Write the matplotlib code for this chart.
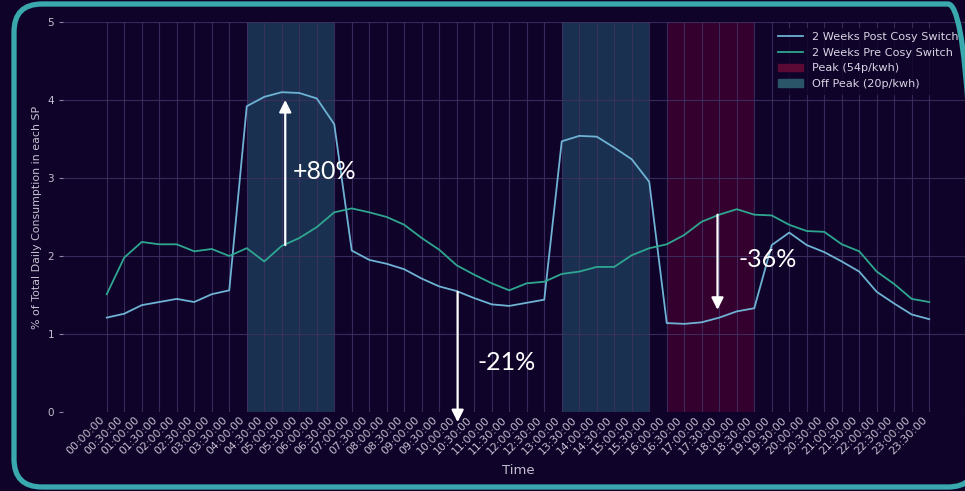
import numpy as np
import matplotlib
matplotlib.use('Agg')
import matplotlib.pyplot as plt
from matplotlib.patches import FancyBboxPatch
import matplotlib.transforms as mtransforms

# half-hourly settlement periods
times = ['%02d:%02d:00' % (h, m) for h in range(24) for m in (0, 30)]

# % of daily consumption per SP
post_switch = [1.21, 1.26, 1.37, 1.41, 1.45, 1.41, 1.51, 1.56, 3.92, 4.04,
               4.10, 4.09, 4.02, 3.69, 2.07, 1.95, 1.90, 1.83, 1.71, 1.61,
               1.55, 1.46, 1.38, 1.36, 1.40, 1.44, 3.47, 3.54, 3.53, 3.39,
               3.24, 2.95, 1.14, 1.13, 1.15, 1.21, 1.29, 1.33, 2.14, 2.30,
               2.14, 2.05, 1.93, 1.80, 1.54, 1.39, 1.25, 1.19]
pre_switch = [1.51, 1.98, 2.18, 2.15, 2.15, 2.06, 2.09, 2.00, 2.10, 1.93,
              2.13, 2.23, 2.37, 2.56, 2.61, 2.56, 2.50, 2.40, 2.23, 2.08,
              1.88, 1.76, 1.65, 1.56, 1.65, 1.67, 1.77, 1.80, 1.86, 1.86,
              2.01, 2.10, 2.15, 2.27, 2.44, 2.53, 2.60, 2.53, 2.52, 2.40,
              2.32, 2.31, 2.15, 2.06, 1.80, 1.64, 1.45, 1.41]

offpeak_windows = [('04:00:00', '06:30:00'), ('13:00:00', '15:30:00')]
peak_window = ('16:00:00', '18:30:00')

# arrows: x position (SP index), y start, y end
arrow_x = [10.2, 20.05, 34.9]
arrow_from = [2.14, 1.54, 2.53]
arrow_to = [4.00, -0.13, 1.31]
change_labels = ['+80%', '-21%', '-36%']
label_x = [10.6, 21.2, 36.1]
label_y = [3.08, 0.64, 1.95]

bg = '#0f0329'
x = np.arange(len(times))
idx = {t: i for i, t in enumerate(times)}

fig = plt.figure(figsize=(9.65, 4.91), dpi=100, facecolor=bg)
ax = fig.add_axes([63/965, 79/491, (973-63)/965, 390/491])
ax.set_facecolor(bg)

for a, b in offpeak_windows:
    ax.axvspan(idx[a], idx[b], color='#1a3050', zorder=0, lw=0)
ax.axvspan(idx[peak_window[0]], idx[peak_window[1]], color='#34002e', zorder=0, lw=0)

ax.plot(x, post_switch, color='#6eb2d4', lw=1.3, label='2 Weeks Post Cosy Switch', zorder=3)
ax.plot(x, pre_switch, color='#2ea690', lw=1.3, label='2 Weeks Pre Cosy Switch', zorder=3)

# legend proxies for shaded bands
ax.fill_between([], [], color='#5a0a35', label='Peak (54p/kwh)')
ax.fill_between([], [], color='#2a5468', label='Off Peak (20p/kwh)')

for ax_x, y0, y1, lab, tx, ty in zip(arrow_x, arrow_from, arrow_to,
                                     change_labels, label_x, label_y):
    ax.annotate('', xy=(ax_x, y1), xytext=(ax_x, y0),
                arrowprops=dict(arrowstyle='-|>', color='white', lw=1.6,
                                mutation_scale=18, shrinkA=0, shrinkB=0),
                annotation_clip=False, zorder=5)
    ax.text(tx, ty, lab, color='white', fontsize=18, family='Lato',
            va='center', ha='left', zorder=5)

ax.set_xlim(-2.5, 49.5)
ax.set_ylim(0, 5)
ax.set_xticks(x)
ax.set_xticklabels(times, rotation=45, ha='right', fontsize=7.8, color='#c4c0d0')
ax.set_yticks([0, 1, 2, 3, 4, 5])
ax.tick_params(axis='y', labelsize=7.5, labelcolor='#c4c0d0', color='#8a84a0', length=3)
ax.tick_params(axis='x', length=0, pad=2)
ax.grid(True, color='#3e3264', lw=0.8, alpha=0.85)
ax.set_axisbelow(True)
for s in ax.spines.values():
    s.set_visible(False)

ax.set_xlabel('Time', color='#c4c0d0', fontsize=9.5, labelpad=5)
ax.set_ylabel('% of Total Daily Consumption in each SP', color='#c4c0d0', fontsize=7.9)

leg = ax.legend(loc='upper left', bbox_to_anchor=(705/910, 1.0), fontsize=8.1,
                frameon=True, facecolor=bg, edgecolor=bg, labelcolor='#d8d4e4',
                handlelength=2.2)

# rounded teal frame around the whole graphic (right side runs past the crop)
frame = FancyBboxPatch((14, 4), 962, 483, boxstyle='round,pad=0,rounding_size=28',
                       transform=mtransforms.IdentityTransform(), fill=False,
                       edgecolor='#3aa9ad', lw=3.8, zorder=20)
fig.patches.append(frame)

fig.savefig('out.png', dpi=100, facecolor=bg)
